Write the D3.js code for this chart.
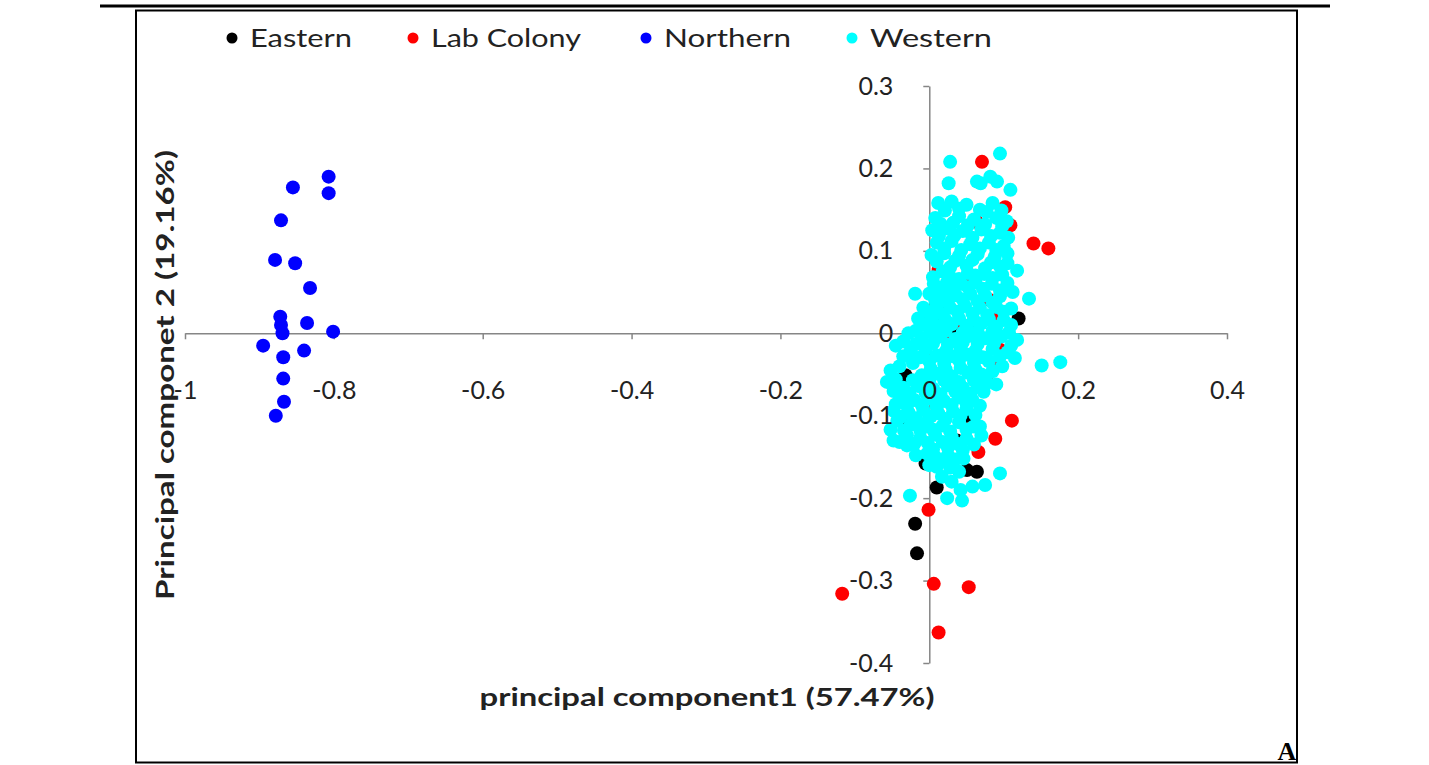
<!DOCTYPE html>
<html>
<head>
<meta charset="utf-8">
<script src="https://cdn.jsdelivr.net/npm/d3@7"></script>
<style>
  html, body { margin: 0; padding: 0; background: #fff; }
  svg { display: block; }
</style>
</head>
<body>
<svg id="chart" width="1429" height="765"></svg>
<script>
// ---------------- DATA ----------------
const categories = ["Eastern", "Lab Colony", "Northern", "Western"];

const eastern = [
  [0.120, 0.018], [-0.032, -0.051], [-0.039, -0.1035], [0.0507, -0.166], [0.064, -0.168],
  [0.010, -0.187], [-0.019, -0.231], [-0.0165, -0.267], [0.015, 0.028], [0.064, 0.010],
  [0.037, -0.130], [-0.005, -0.158], [0.030, 0.005], [0.050, -0.100]
];

const labColony = [
  [0.0708, 0.208], [0.102, 0.153], [0.109, 0.131], [0.064, 0.135], [0.140, 0.109],
  [0.160, 0.103], [0.0125, 0.0765], [-0.003, 0.016], [0.008, 0.010], [0.025, -0.008],
  [0.042, 0.012], [0.086, 0.018], [0.095, -0.020], [0.091, -0.037], [0.0776, -0.059],
  [0.111, -0.106], [0.0887, -0.128], [0.066, -0.144], [-0.001, -0.214], [0.006, -0.304],
  [0.053, -0.308], [-0.117, -0.316], [0.0125, -0.363], [0.082, 0.040], [0.055, 0.060]
];

const northern = [
  [-0.807, 0.190], [-0.807, 0.170], [-0.855, 0.177], [-0.871, 0.137], [-0.879, 0.089],
  [-0.852, 0.085], [-0.832, 0.055], [-0.872, 0.020], [-0.836, 0.0125], [-0.869, 0.0],
  [-0.871, 0.010], [-0.801, 0.002], [-0.895, -0.015], [-0.840, -0.021], [-0.868, -0.029],
  [-0.868, -0.055], [-0.867, -0.083], [-0.878, -0.100]
];

const western = [
  [0.028, 0.208], [0.026, 0.182], [0.064, 0.184], [0.095, 0.218], [0.069, 0.182],
  [0.091, 0.184], [0.109, 0.174], [0.082, 0.190],
  [0.012, 0.158], [0.030, 0.160], [0.050, 0.156], [0.085, 0.158], [0.068, 0.150],
  [0.021, 0.149], [0.040, 0.151], [0.077, 0.147], [0.097, 0.149],
  [0.008, 0.140], [0.040, 0.142], [0.060, 0.138], [0.090, 0.140], [0.104, 0.136],
  [0.015, 0.133], [0.032, 0.134], [0.052, 0.131], [0.075, 0.132], [0.098, 0.130],
  [0.004, 0.125], [0.022, 0.127], [0.045, 0.124], [0.070, 0.126], [0.095, 0.122],
  [0.013, 0.118], [0.034, 0.119], [0.058, 0.116], [0.083, 0.118], [0.106, 0.116],
  [0.010, 0.110], [0.030, 0.112], [0.055, 0.108], [0.080, 0.110], [0.100, 0.106],
  [0.020, 0.103], [0.043, 0.101], [0.068, 0.103], [0.090, 0.101],
  [0.003, 0.095], [0.020, 0.097], [0.040, 0.094], [0.065, 0.096], [0.088, 0.093], [0.105, 0.097],
  [0.010, 0.087], [0.035, 0.088], [0.058, 0.089], [0.083, 0.086], [0.105, 0.085],
  [0.028, 0.080], [0.050, 0.082], [0.075, 0.079], [0.095, 0.081],
  [0.018, 0.075], [0.028, 0.068], [0.052, 0.073], [0.074, 0.072], [0.098, 0.071],
  [0.005, 0.068], [0.040, 0.066], [0.062, 0.070], [0.085, 0.067], [0.118, 0.076],
  [0.006, 0.060], [0.024, 0.062], [0.043, 0.060], [0.062, 0.062], [0.084, 0.060], [0.105, 0.061],
  [0.015, 0.055], [0.032, 0.053], [0.052, 0.056], [0.072, 0.054], [0.095, 0.052],
  [0.000, 0.048], [0.018, 0.047], [0.036, 0.046], [0.055, 0.048], [0.075, 0.046], [0.095, 0.045], [0.112, 0.050],
  [-0.019, 0.048], [0.008, 0.040], [0.025, 0.038], [0.045, 0.041], [0.065, 0.039], [0.085, 0.037], [0.134, 0.042],
  [-0.008, 0.031], [0.010, 0.032], [0.028, 0.031], [0.048, 0.033], [0.068, 0.031], [0.090, 0.032], [0.110, 0.030],
  [0.000, 0.025], [0.018, 0.023], [0.038, 0.026], [0.058, 0.024], [0.078, 0.022], [0.100, 0.026],
  [-0.015, 0.018], [0.003, 0.017], [0.022, 0.016], [0.040, 0.018], [0.060, 0.016], [0.080, 0.017], [0.100, 0.016],
  [-0.008, 0.010], [0.012, 0.008], [0.030, 0.011], [0.050, 0.009], [0.070, 0.012], [0.090, 0.008], [0.110, 0.010],
  [-0.018, 0.003], [0.002, 0.002], [0.022, 0.003], [0.045, 0.001], [0.065, 0.002], [0.085, 0.003], [0.107, 0.001],
  [-0.028, 0.000], [-0.010, -0.006], [0.015, -0.004], [0.035, -0.007], [0.055, -0.003], [0.075, -0.006], [0.097, -0.004], [0.118, -0.008],
  [-0.035, -0.010], [-0.018, -0.013], [0.005, -0.012], [0.025, -0.014], [0.045, -0.011], [0.065, -0.013], [0.087, -0.012], [0.110, -0.015],
  [-0.045, -0.015], [-0.025, -0.021], [-0.005, -0.019], [0.022, -0.022], [0.042, -0.018], [0.062, -0.021], [0.085, -0.019], [0.105, -0.023],
  [-0.035, -0.028], [-0.012, -0.029], [0.010, -0.027], [0.032, -0.028], [0.052, -0.026], [0.072, -0.029], [0.095, -0.028],
  [-0.022, -0.036], [0.000, -0.034], [0.020, -0.037], [0.040, -0.033], [0.060, -0.036], [0.080, -0.034], [0.151, -0.039], [0.176, -0.035],
  [0.098, -0.040], [0.115, -0.030], [0.090, -0.062],
  [-0.040, -0.040], [0.002, -0.043], [0.022, -0.044], [0.042, -0.042], [0.062, -0.044], [0.085, -0.046],
  [-0.052, -0.045], [-0.010, -0.051], [0.012, -0.049], [0.030, -0.052], [0.052, -0.048], [0.070, -0.050],
  [-0.045, -0.056], [-0.022, -0.057], [0.000, -0.058], [0.020, -0.057], [0.040, -0.059], [0.060, -0.057], [0.078, -0.060],
  [-0.057, -0.059], [-0.035, -0.066], [-0.015, -0.064], [0.005, -0.067], [0.025, -0.063], [0.045, -0.066], [0.065, -0.064],
  [-0.048, -0.070], [-0.027, -0.073], [-0.005, -0.072], [0.015, -0.074], [0.035, -0.071], [0.055, -0.073], [0.073, -0.071],
  [-0.039, -0.077], [-0.020, -0.081], [0.000, -0.079], [0.020, -0.082], [0.040, -0.078], [0.058, -0.081],
  [-0.045, -0.086], [-0.030, -0.088], [-0.010, -0.087], [0.010, -0.089], [0.030, -0.087], [0.050, -0.085], [0.068, -0.088],
  [-0.048, -0.094], [-0.028, -0.096], [-0.008, -0.093], [0.012, -0.097], [0.032, -0.095], [0.050, -0.092],
  [-0.038, -0.101], [-0.018, -0.103], [0.002, -0.101], [0.022, -0.104], [0.042, -0.100], [0.062, -0.099],
  [-0.043, -0.106], [-0.025, -0.111], [-0.005, -0.109], [0.018, -0.112], [0.040, -0.108], [0.060, -0.113],
  [-0.052, -0.117], [-0.034, -0.118], [0.005, -0.117], [0.028, -0.119], [0.050, -0.117], [0.068, -0.113],
  [-0.048, -0.130], [-0.030, -0.124], [-0.012, -0.127], [0.008, -0.123], [0.030, -0.126], [0.050, -0.128], [0.070, -0.124],
  [-0.040, -0.132], [-0.020, -0.134], [-0.002, -0.133], [0.018, -0.132], [0.038, -0.134], [0.060, -0.135],
  [-0.030, -0.136], [-0.012, -0.118], [0.005, -0.141], [0.025, -0.139], [0.045, -0.142],
  [-0.018, -0.148], [0.008, -0.150], [0.025, -0.148], [0.046, -0.152],
  [-0.003, -0.146], [0.015, -0.156], [0.035, -0.153],
  [0.000, -0.160], [0.028, -0.163],
  [0.010, -0.162], [0.017, -0.174], [0.040, -0.168], [0.095, -0.170],
  [0.030, -0.180], [0.058, -0.186],
  [0.042, -0.190], [0.075, -0.184], [0.024, -0.200], [-0.026, -0.197], [0.044, -0.203]
];

const xTicks = [-1, -0.8, -0.6, -0.4, -0.2, 0, 0.2, 0.4];
const yTicks = [-0.4, -0.3, -0.2, -0.1, 0, 0.1, 0.2, 0.3];
const xTickLabels = ["-1", "-0.8", "-0.6", "-0.4", "-0.2", "0", "0.2", "0.4"];
const yTickLabels = ["-0.4", "-0.3", "-0.2", "-0.1", "0", "0.1", "0.2", "0.3"];
const xTitle = "principal component1 (57.47%)";
const yTitle = "Principal componet  2 (19.16%)";
const panelLabel = "A";

// ---------------- DRAW ----------------
const svg = d3.select("#chart");
const colors = { "Eastern": "#000000", "Lab Colony": "#ff0000", "Northern": "#0000ff", "Western": "#00ffff" };
const seriesData = { "Eastern": eastern, "Lab Colony": labColony, "Northern": northern, "Western": western };

// frame
svg.append("line").attr("x1", 100).attr("x2", 1330).attr("y1", 6).attr("y2", 6)
  .attr("stroke", "#000").attr("stroke-width", 3);
svg.append("rect").attr("x", 136).attr("y", 10.5).attr("width", 1161).attr("height", 752)
  .attr("fill", "none").attr("stroke", "#000").attr("stroke-width", 2);

const x = d3.scaleLinear().domain([-1, 0.4]).range([185, 1227]);
const y = d3.scaleLinear().domain([-0.4, 0.3]).range([663, 86]);

const tickFont = "Lato, 'Open Sans', sans-serif";

// axis lines + ticks (under the points)
const xAxisLines = svg.append("g").attr("transform", `translate(0,${y(0)})`)
  .call(d3.axisBottom(x).tickValues(xTicks).tickSize(6).tickSizeOuter(0).tickFormat(""));
const yAxisLines = svg.append("g").attr("transform", `translate(${x(0)},0)`)
  .call(d3.axisLeft(y).tickValues(yTicks).tickSize(6).tickSizeOuter(0).tickFormat(""));
[xAxisLines, yAxisLines].forEach(g => {
  g.select(".domain").attr("stroke", "#868686").attr("stroke-width", 1.5);
  g.selectAll(".tick line").attr("stroke", "#868686").attr("stroke-width", 1.5);
});

// points (Excel order: Western drawn last, on top)
const r = 7;
categories.forEach(cat => {
  svg.append("g").selectAll("circle").data(seriesData[cat]).join("circle")
    .attr("cx", d => x(d[0])).attr("cy", d => y(d[1])).attr("r", r)
    .attr("fill", colors[cat]);
});

// tick labels (drawn above the points)
const xAxisLabels = svg.append("g").attr("transform", `translate(0,${y(0)})`)
  .call(d3.axisBottom(x).tickValues(xTicks).tickSize(0).tickFormat((d, i) => xTickLabels[i]));
xAxisLabels.select(".domain").remove();
xAxisLabels.selectAll(".tick line").remove();
xAxisLabels.selectAll(".tick text").attr("y", 48).attr("dy", "0.71em")
  .attr("font-family", tickFont).attr("font-size", 25).attr("fill", "#222");

const yAxisLabels = svg.append("g").attr("transform", `translate(${x(0)},0)`)
  .call(d3.axisLeft(y).tickValues(yTicks).tickSize(0).tickFormat((d, i) => yTickLabels[i]));
yAxisLabels.select(".domain").remove();
yAxisLabels.selectAll(".tick line").remove();
yAxisLabels.selectAll(".tick text").attr("x", -36)
  .attr("font-family", tickFont).attr("font-size", 25).attr("fill", "#222");

// legend
const legendX = [232, 413, 646, 852];
const legendW = [102, 150, 127, 122];
categories.forEach((cat, i) => {
  svg.append("circle").attr("cx", legendX[i]).attr("cy", 38).attr("r", 5.5).attr("fill", colors[cat]);
  svg.append("text").attr("x", legendX[i] + 18).attr("y", 47)
    .attr("font-family", tickFont).attr("font-size", 25).attr("fill", "#222")
    .attr("textLength", legendW[i]).attr("lengthAdjust", "spacingAndGlyphs")
    .text(cat);
});

// axis titles
svg.append("text").attr("x", 707).attr("y", 706).attr("text-anchor", "middle")
  .attr("font-family", tickFont).attr("font-weight", "bold").attr("font-size", 24).attr("fill", "#222")
  .attr("textLength", 455).attr("lengthAdjust", "spacingAndGlyphs")
  .text(xTitle);
svg.append("text").attr("transform", "translate(174,375) rotate(-90)").attr("text-anchor", "middle")
  .attr("font-family", tickFont).attr("font-weight", "bold").attr("font-size", 24).attr("fill", "#222")
  .attr("textLength", 450).attr("lengthAdjust", "spacingAndGlyphs")
  .text(yTitle);

// panel label
svg.append("text").attr("x", 1287).attr("y", 760).attr("text-anchor", "middle")
  .attr("font-family", "'Liberation Serif', serif").attr("font-weight", "bold").attr("font-size", 26)
  .attr("fill", "#000").text(panelLabel);
</script>
</body>
</html>
